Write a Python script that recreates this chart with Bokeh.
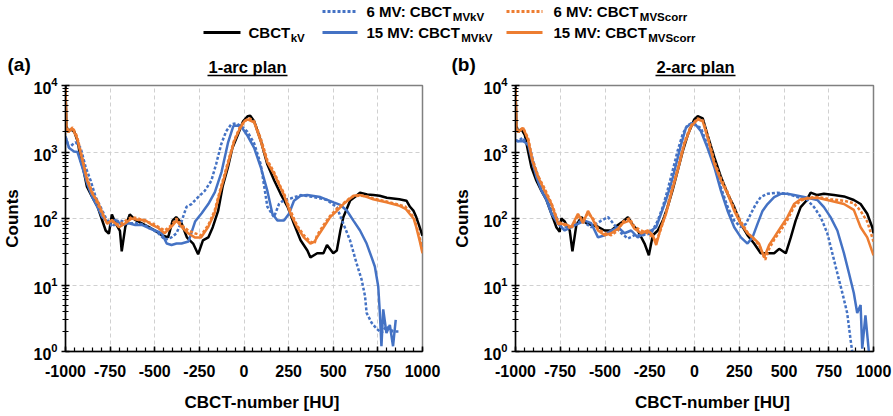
from bokeh.plotting import figure
from bokeh.layouts import column, row
from bokeh.models import Range1d, FixedTicker, LogTickFormatter
from bokeh.embed import file_html
from bokeh.resources import INLINE
from bokeh.core.properties import value

# ---------------- data ----------------
x_ticks = [-1000, -750, -500, -250, 0, 250, 500, 750, 1000]
x_tick_labels = ["-1000", "-750", "-500", "-250", "0", "250", "500", "750", "1000"]
y_ticks = [1, 10, 100, 1000, 10000]

# Panel (a) 1-arc plan
a_kv_x = [-1000, -995, -985, -970, -950, -930, -915, -900, -880, -850, -820, -795, -775, -757, -740, -720, -695, -685, -665, -640, -610, -575, -535, -500, -460, -425, -400, -380, -350, -320, -285, -257, -230, -200, -175, -145, -120, -90, -65, -35, -5, 20, 35, 57, 95, 130, 170, 205, 245, 280, 317, 355, 372, 410, 445, 465, 500, 520, 540, 557, 595, 630, 650, 690, 725, 760, 800, 835, 870, 910, 930, 950, 965, 980, 1000]
a_kv_y = [10000, 2500, 2000, 2200, 2000, 1400, 740, 550, 300, 210, 150, 95, 66, 59, 115, 85, 65, 32, 75, 115, 95, 85, 75, 66, 56, 52, 93, 105, 85, 52, 42, 29, 47, 52, 74, 130, 300, 590, 1150, 1800, 2900, 3450, 3500, 2900, 1450, 660, 370, 235, 148, 83, 47, 33, 26, 30, 30, 40, 30, 33, 66, 105, 186, 220, 245, 230, 225, 220, 205, 200, 195, 185, 150, 130, 105, 80, 55]

a_mvkv6_x = [-1000, -980, -960, -943, -915, -887, -859, -831, -804, -776, -739, -702, -646, -591, -535, -480, -443, -406, -378, -350, -322, -294, -257, -220, -183, -156, -128, -100, -72, -44, -7, 20, 57, 94, 131, 168, 196, 224, 261, 317, 391, 465, 520, 557, 594, 631, 659, 678, 687, 715, 743, 770, 798, 835, 872]
a_mvkv6_y = [1700, 1150, 1300, 1400, 1150, 590, 370, 210, 150, 105, 75, 95, 85, 85, 75, 60, 48, 52, 60, 90, 150, 165, 210, 260, 370, 660, 1300, 2050, 2600, 2700, 2350, 2000, 1350, 650, 150, 105, 165, 190, 200, 225, 210, 190, 148, 83, 47, 21, 12, 6.8, 3.8, 2.7, 2.2, 1.9, 2.4, 2.0, 2.0]

a_mvkv15_x = [-1000, -980, -952, -933, -906, -878, -850, -822, -794, -757, -720, -683, -646, -609, -572, -535, -498, -461, -433, -406, -378, -350, -311, -274, -237, -200, -163, -126, -89, -60, -35, -10, 20, 57, 94, 131, 159, 187, 224, 252, 280, 317, 354, 428, 502, 539, 576, 613, 650, 687, 715, 733, 752, 761, 770, 780, 798, 817, 835, 850]
a_mvkv15_y = [1700, 1150, 1020, 1000, 590, 330, 210, 150, 105, 85, 95, 80, 85, 80, 80, 72, 66, 60, 42, 40, 42, 42, 45, 90, 120, 165, 250, 500, 1400, 2450, 2500, 2300, 1750, 1150, 590, 260, 118, 93, 93, 118, 185, 220, 225, 210, 175, 160, 132, 93, 66, 42, 26, 19, 9.5, 3.8, 1.2, 4.3, 1.9, 2.5, 1.2, 3.0]

a_mvs6_x = [-1000, -995, -980, -960, -935, -905, -878, -850, -822, -795, -767, -740, -700, -665, -630, -590, -555, -515, -480, -445, -405, -378, -350, -313, -276, -240, -200, -165, -137, -110, -80, -55, -25, 2, 30, 57, 94, 131, 168, 205, 224, 261, 298, 335, 372, 395, 409, 446, 483, 520, 557, 590, 613, 650, 690, 724, 760, 798, 835, 872, 905, 928, 950, 965, 985, 1000]
a_mvs6_y = [9000, 2300, 2100, 2350, 1700, 800, 400, 250, 170, 118, 85, 90, 80, 92, 105, 100, 90, 85, 75, 66, 80, 100, 80, 66, 60, 56, 80, 130, 250, 450, 880, 1500, 2300, 2900, 3200, 2900, 1600, 750, 500, 300, 240, 130, 78, 56, 45, 42, 56, 80, 110, 140, 170, 200, 215, 220, 215, 200, 190, 180, 170, 160, 150, 125, 105, 80, 50, 33]

a_mvs15_x = [-1000, -995, -985, -960, -935, -905, -878, -850, -822, -795, -767, -740, -700, -665, -630, -590, -555, -515, -480, -445, -405, -378, -350, -313, -276, -240, -200, -165, -137, -110, -80, -55, -25, 2, 20, 57, 94, 131, 168, 205, 224, 261, 298, 335, 372, 395, 409, 446, 483, 520, 557, 590, 613, 650, 690, 724, 760, 798, 835, 872, 905, 928, 950, 965, 985, 1000]
a_mvs15_y = [9000, 2200, 2000, 2250, 1600, 740, 370, 235, 185, 125, 83, 95, 74, 85, 100, 95, 95, 80, 72, 60, 76, 93, 75, 60, 52, 52, 75, 120, 235, 420, 830, 1450, 2200, 2900, 3100, 2800, 1450, 700, 470, 290, 225, 118, 74, 52, 42, 45, 52, 74, 105, 130, 165, 195, 220, 225, 210, 195, 185, 175, 165, 155, 140, 118, 100, 74, 45, 30]

# Panel (b) 2-arc plan
b_kv_x = [-1000, -995, -985, -967, -948, -929, -911, -883, -855, -827, -799, -772, -753, -744, -725, -697, -682, -660, -632, -604, -577, -539, -502, -465, -428, -400, -372, -345, -317, -279, -255, -233, -205, -177, -150, -122, -94, -66, -38, -1, 18, 46, 73, 111, 148, 185, 222, 259, 296, 333, 370, 408, 445, 473, 510, 538, 565, 593, 621, 649, 686, 723, 779, 835, 890, 928, 965, 993, 1000]
b_kv_y = [10000, 2500, 2000, 2200, 1800, 1000, 590, 370, 260, 190, 118, 74, 63, 100, 90, 66, 32, 80, 105, 85, 80, 75, 66, 66, 80, 90, 105, 80, 66, 42, 28, 56, 66, 93, 150, 270, 525, 1020, 1800, 3100, 3450, 3200, 1800, 830, 420, 235, 148, 83, 56, 42, 30, 30, 30, 35, 30, 52, 93, 148, 180, 245, 225, 235, 225, 215, 190, 165, 118, 74, 60]

b_mvkv6_x = [-1000, -985, -960, -920, -892, -855, -818, -781, -744, -688, -632, -577, -521, -483, -447, -409, -372, -335, -289, -242, -205, -177, -150, -122, -94, -66, -38, 0, 36, 73, 111, 148, 185, 222, 259, 287, 315, 343, 370, 408, 463, 519, 575, 630, 668, 705, 742, 770, 798, 826, 853, 872, 881]
b_mvkv6_y = [1500, 1450, 1650, 1150, 590, 320, 190, 118, 74, 74, 93, 74, 93, 105, 80, 60, 50, 56, 56, 60, 93, 150, 270, 525, 1050, 1850, 2600, 2600, 2300, 1250, 640, 290, 150, 93, 74, 83, 118, 165, 210, 235, 245, 235, 210, 190, 148, 105, 60, 30, 15, 7.6, 3.8, 1.5, 1.0]

b_mvkv15_x = [-1000, -985, -957, -929, -911, -883, -855, -827, -799, -762, -725, -688, -651, -614, -577, -539, -502, -465, -428, -391, -354, -317, -279, -242, -214, -187, -159, -131, -103, -75, -48, -20, 0, 36, 73, 111, 148, 185, 222, 259, 296, 324, 352, 380, 408, 445, 482, 519, 556, 612, 649, 686, 723, 760, 798, 835, 863, 890, 909, 928, 937, 955, 974]
b_mvkv15_y = [1500, 1450, 1450, 1300, 800, 420, 260, 190, 118, 83, 66, 75, 83, 93, 85, 52, 56, 66, 74, 60, 66, 52, 60, 66, 74, 118, 190, 330, 650, 1300, 2300, 2700, 2700, 2050, 1150, 590, 260, 130, 74, 52, 42, 52, 83, 130, 165, 210, 235, 235, 225, 210, 200, 190, 148, 105, 66, 30, 15, 7.6, 3.8, 5.0, 1.1, 3.5, 1.0]

b_mvs6_x = [-1000, -995, -985, -957, -929, -906, -874, -837, -799, -762, -725, -688, -651, -623, -595, -567, -539, -502, -465, -428, -400, -363, -335, -298, -261, -233, -214, -187, -159, -131, -94, -57, -20, 18, 46, 73, 111, 148, 185, 222, 259, 296, 333, 361, 395, 417, 445, 482, 519, 556, 593, 630, 686, 760, 835, 890, 928, 965, 1000]
b_mvs6_y = [9000, 2200, 2100, 2300, 1600, 800, 440, 280, 170, 90, 80, 70, 110, 95, 120, 100, 70, 60, 56, 66, 90, 100, 75, 66, 60, 52, 45, 70, 125, 250, 560, 1400, 2500, 3200, 3000, 1800, 720, 400, 250, 140, 90, 62, 48, 40, 24, 35, 48, 66, 95, 150, 185, 205, 210, 195, 185, 170, 130, 90, 45]

b_mvs15_x = [-1000, -995, -985, -957, -929, -906, -874, -837, -799, -762, -725, -688, -651, -623, -595, -567, -539, -502, -465, -428, -400, -363, -335, -298, -261, -233, -214, -187, -159, -131, -94, -57, -20, 18, 46, 73, 111, 148, 185, 222, 259, 296, 333, 361, 389, 417, 445, 482, 519, 556, 593, 630, 686, 760, 835, 890, 928, 965, 1000]
b_mvs15_y = [9000, 2200, 2000, 2300, 1500, 740, 420, 260, 165, 83, 83, 75, 118, 85, 130, 95, 66, 56, 60, 70, 85, 93, 70, 60, 66, 56, 40, 74, 118, 230, 525, 1300, 2400, 3100, 2900, 1650, 660, 370, 235, 130, 83, 60, 50, 42, 26, 40, 52, 74, 105, 165, 195, 200, 205, 185, 165, 135, 74, 52, 28]

legend_main = ["CBCT", "6 MV: CBCT", "15 MV: CBCT", "6 MV: CBCT", "15 MV: CBCT"]
legend_sub = ["kV", "MVkV", "MVkV", "MVScorr", "MVScorr"]
panel_titles = ["1-arc plan", "2-arc plan"]
panel_tags = ["(a)", "(b)"]
x_axis_title = "CBCT-number [HU]"
y_axis_title = "Counts"

# ---------------- styling ----------------
FONT = "Liberation Sans"
BLACK = "#000000"
BLUE = "#4472C4"
ORANGE = "#ED7D31"
DOT = "3 2"

styles = [(BLACK, "solid", 2.5), (BLUE, DOT, 2.5), (BLUE, "solid", 2.5), (ORANGE, DOT, 2.5), (ORANGE, "solid", 2.5)]

x_minor = list(range(-1000, 1001, 50))
y_minor = [m * 10 ** k for k in range(0, 4) for m in range(2, 10)]

STRIP_H = 77      # legend + titles
BOTTOM_H = 29     # x-axis titles
PANEL_H = 416 - STRIP_H - BOTTOM_H


def make_panel(series, width, left, right):
    p = figure(width=width, height=PANEL_H, x_range=Range1d(-1000, 1000), y_range=Range1d(1, 10000),
               y_axis_type="log", output_backend="svg", toolbar_location=None,
               min_border_left=left, min_border_right=right, min_border_top=8, min_border_bottom=36)
    p.background_fill_color = "white"
    p.border_fill_color = "white"
    p.outline_line_color = "#808080"
    p.outline_line_width = 1.5

    for (xs, ys), (c, d, w) in zip(series, styles):
        p.line(xs, ys, line_color=c, line_dash=d, line_width=w)

    xa = p.xaxis[0]
    xa.ticker = FixedTicker(ticks=x_ticks, minor_ticks=x_minor)
    xa.major_label_overrides = {t: s for t, s in zip(x_ticks, x_tick_labels)}
    ya = p.yaxis[0]
    ya.ticker = FixedTicker(ticks=y_ticks, minor_ticks=y_minor)
    ya.formatter = LogTickFormatter()
    ya.axis_label = y_axis_title
    for ax in (xa, ya):
        ax.axis_label_text_font = FONT
        ax.axis_label_text_font_size = "17px"
        ax.axis_label_text_font_style = "bold"
        ax.axis_label_text_color = "black"
        ax.major_label_text_font = FONT
        ax.major_label_text_font_size = "16px"
        ax.major_label_text_font_style = "bold"
        ax.major_label_text_color = "black"
        ax.axis_line_color = "black"
        ax.axis_line_width = 1.5
        ax.major_tick_line_color = "black"
        ax.minor_tick_line_color = "black"
        ax.major_tick_line_width = 1.5
        ax.minor_tick_line_width = 1.2
    xa.major_tick_in = 5
    xa.major_tick_out = 0
    xa.minor_tick_in = 4
    xa.minor_tick_out = 0
    xa.major_label_standoff = 13
    ya.major_tick_in = 4
    ya.major_tick_out = 4
    ya.minor_tick_in = 3
    ya.minor_tick_out = 3
    ya.major_label_standoff = 4
    ya.axis_label_standoff = 8

    p.xgrid[0].ticker = FixedTicker(ticks=x_ticks)
    p.ygrid[0].ticker = FixedTicker(ticks=y_ticks)
    for g in (p.xgrid[0], p.ygrid[0]):
        g.grid_line_color = "#D0D0D0"
        g.grid_line_dash = "4 3"
        g.grid_line_width = 1
    return p


pa = make_panel([(a_kv_x, a_kv_y), (a_mvkv6_x, a_mvkv6_y), (a_mvkv15_x, a_mvkv15_y),
                 (a_mvs6_x, a_mvs6_y), (a_mvs15_x, a_mvs15_y)], 450, 63, 28)
pb = make_panel([(b_kv_x, b_kv_y), (b_mvkv6_x, b_mvkv6_y), (b_mvkv15_x, b_mvkv15_y),
                 (b_mvs6_x, b_mvs6_y), (b_mvs15_x, b_mvs15_y)], 443, 64, 20)


def strip(height):
    s = figure(width=893, height=height, x_range=Range1d(0, 893), y_range=Range1d(height, 0),
               output_backend="svg", toolbar_location=None, min_border=0,
               x_axis_location=None, y_axis_location=None)
    s.outline_line_color = None
    s.background_fill_color = "white"
    s.border_fill_color = "white"
    for g in s.grid:
        g.visible = False
    return s


# ---------------- legend + titles strip (pixel coordinates) ----------------
lg = strip(STRIP_H)

MAIN_PX = 15.0
SUB_PX = 11.5
# Arial-bold em widths of the main legend texts
main_em = [2.777, 5.722, 6.278, 5.722, 6.278]

key_x0 = [203, 322, 322, 506, 506]
key_x1 = [240, 357, 357, 542, 542]
key_y = [32, 11, 32, 11, 32]
txt_x = [248, 366, 366, 553, 553]
sub_x = [tx + em * MAIN_PX + 0.5 for tx, em in zip(txt_x, main_em)]
for i, (c, d, w) in enumerate(styles):
    lg.segment(x0=[key_x0[i]], y0=[key_y[i]], x1=[key_x1[i]], y1=[key_y[i]],
               line_color=c, line_dash=d, line_width=3)
lg.text(x=txt_x, y=key_y, text=legend_main, text_font=value(FONT), text_font_size=value("%.1fpx" % MAIN_PX),
        text_font_style="bold", text_baseline="middle", text_align="left", text_color="black")
lg.text(x=sub_x, y=[k + 5.5 for k in key_y], text=legend_sub, text_font=value(FONT),
        text_font_size=value("%.1fpx" % SUB_PX), text_font_style="bold", text_baseline="middle",
        text_align="left", text_color="black")

# panel tags and underlined titles
lg.text(x=[7, 451], y=[64, 64], text=panel_tags, text_font=value(FONT), text_font_size=value("19px"),
        text_font_style="bold", text_baseline="middle", text_align="left", text_color="black")
title_cx = [247, 695]
lg.text(x=title_cx, y=[66.5, 66.5], text=panel_titles, text_font=value(FONT), text_font_size=value("16.5px"),
        text_font_style="bold", text_baseline="middle", text_align="center", text_color="black")
lg.segment(x0=[c - 40 for c in title_cx], y0=[75, 75], x1=[c + 40 for c in title_cx], y1=[75, 75],
           line_color="black", line_width=1.5)

# ---------------- x-axis titles strip ----------------
bt = strip(BOTTOM_H)
bt.text(x=[261.5, 712], y=[14.7, 14.7], text=[x_axis_title, x_axis_title], text_font=value(FONT),
        text_font_size=value("17px"), text_font_style="bold", text_baseline="middle", text_align="center",
        text_color="black")

layout = column(lg, row(pa, pb), bt)
open("out.html", "w").write(file_html(layout, INLINE))
